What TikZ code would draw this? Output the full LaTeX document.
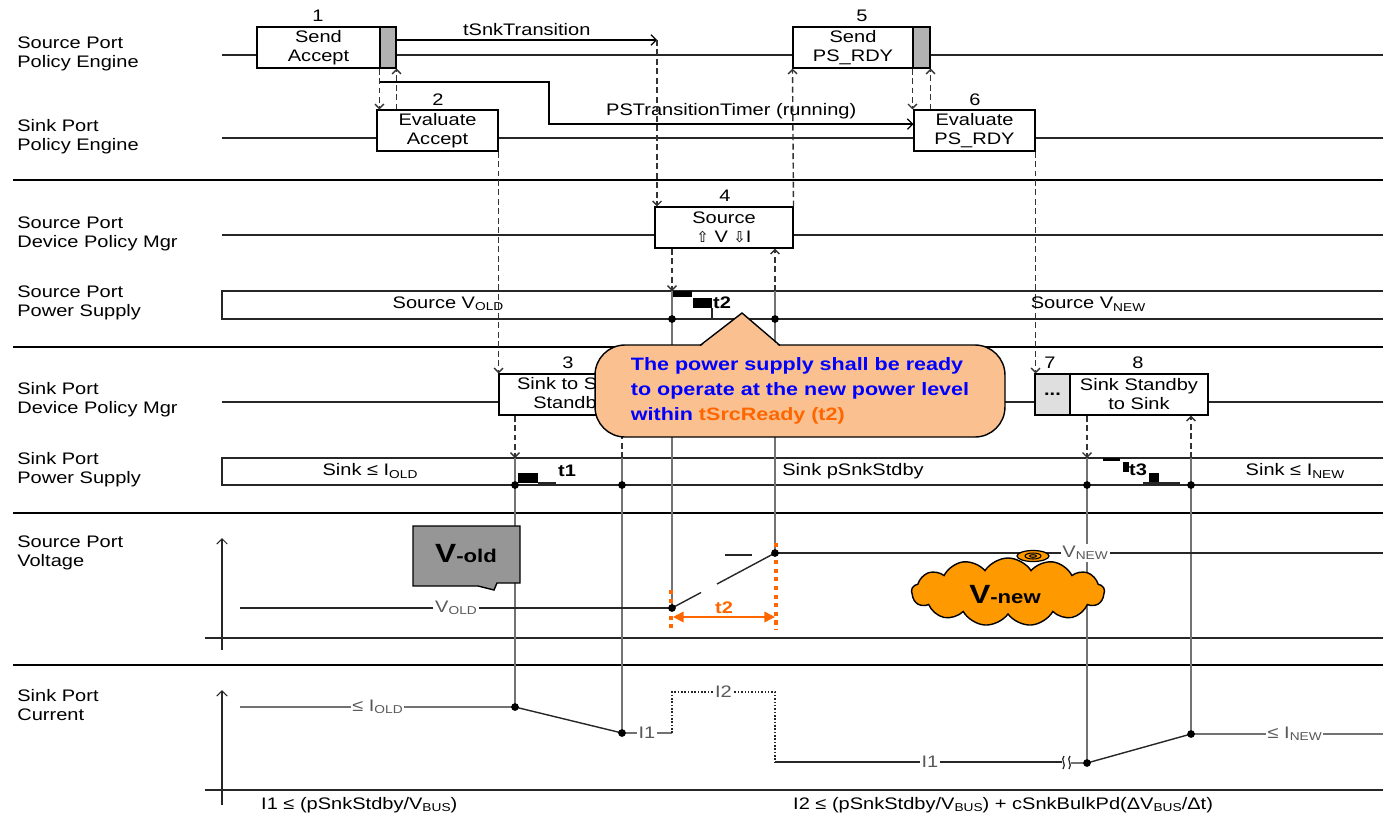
\documentclass[tikz,border=0pt]{standalone}
\usepackage{fontspec}
\setmainfont[FakeStretch=1.2]{Liberation Sans}
\newfontfamily\arrowfont{DejaVu Sans}
\usetikzlibrary{arrows.meta,shapes.symbols}

\definecolor{notefill}{RGB}{250,192,144}
\definecolor{cloudfill}{RGB}{255,153,0}
\definecolor{tworange}{RGB}{255,102,0}
\definecolor{noteblue}{RGB}{0,0,255}
\definecolor{oldgray}{RGB}{150,150,150}

\newcommand{\lowtxt}[1]{{\fontsize{6.5}{7}\selectfont\raisebox{-0.4ex}{#1}}}

\tikzset{
  lane/.style={line width=0.6pt, black!85},
  sepline/.style={line width=1.3pt, black},
  evbox/.style={draw, fill=white, line width=0.6pt, minimum height=0.82cm, inner sep=0pt, align=center},
  crcbox/.style={draw, fill=gray!60, line width=0.6pt, minimum height=0.82cm, inner sep=0pt},
  msg/.style={line width=0.8pt, black!80, dash pattern=on 3.4pt off 2pt, -{Straight Barb[length=2.5pt,width=5pt]}},
  tmark/.style={line width=0.6pt, black!55},
  lanelbl/.style={anchor=west, align=left, inner sep=0pt},
  onlbl/.style={fill=white, inner sep=1pt, text=black!65},
  steplbl/.style={anchor=west, inner sep=1pt, font=\fontsize{9.5}{10.8}\selectfont\bfseries}
}

\begin{document}
\begin{tikzpicture}[x=0.02cm, y=-0.02cm, font=\fontsize{9.5}{10.8}\selectfont]
    \useasboundingbox (0,0) rectangle (1383,819);

    % --- lane names ---
    \node[lanelbl] (lspe)  at (17,54)  {Source Port\\Policy Engine};
    \node[lanelbl] (lkpe)  at (17,137) {Sink Port\\Policy Engine};
    \node[lanelbl] (lsdpm) at (17,234) {Source Port\\Device Policy Mgr};
    \node[lanelbl] (lsps)  at (17,303) {Source Port\\Power Supply};
    \node[lanelbl] (lkdpm) at (17,400) {Sink Port\\Device Policy Mgr};
    \node[lanelbl] (lkps)  at (17,470) {Sink Port\\Power Supply};
    \node[lanelbl] (lsv)   at (17,553) {Source Port\\Voltage};
    \node[lanelbl] (lki)   at (17,705) {Sink Port\\Current};

    % --- separators and lanes ---
    \foreach \y in {180,347,513,665} \draw[sepline] (13,\y) -- (1383,\y);
    \foreach \y in {55,138,235,402} \draw[lane] (222,\y) -- (1383,\y);
    \draw[lane] (1383,291) -- (222,291) -- (222,319) -- (1383,319);
    \draw[lane] (1383,458) -- (222,458) -- (222,485) -- (1383,485);

    % --- axes ---
    \draw[lane, -{Straight Barb[length=3pt,width=6pt]}] (222,650) -- (222,538);
    \draw[lane] (205,638) -- (1383,638);
    \draw[lane, -{Straight Barb[length=3pt,width=6pt]}] (222,805) -- (222,690);
    \draw[lane] (205,790) -- (1383,790);

    % --- time marks ---
    \coordinate (psA) at (672,291);
    \coordinate (psB) at (775,291);
    \coordinate (skA) at (515,458);
    \coordinate (skB) at (622,458);
    \coordinate (skC) at (1087,458);
    \coordinate (skD) at (1191,458);
    \coordinate (vA) at (672,608);
    \coordinate (vB) at (775,553);
    \coordinate (iA) at (515,707);
    \coordinate (iB) at (622,733);
    \coordinate (iC) at (672,733);
    \coordinate (iD) at (672,692);
    \coordinate (iE) at (775,692);
    \coordinate (iF) at (775,762);
    \coordinate (iG) at (1087,763);
    \coordinate (iH) at (1191,734);
    \draw[tmark] (psA) -- (vA);
    \draw[tmark] (psB) -- (vB);
    \draw[tmark] (skA) -- (iA);
    \draw[tmark] (skB) -- (iB);
    \draw[tmark] (skC) -- (iG);
    \draw[tmark] (skD) -- (iH);

    % --- policy engine boxes ---
    \node[evbox, minimum width=2.46cm] (sendacc) at (318.5,47.5) {Send\\Accept};
    \node[crcbox, minimum width=0.32cm] (crcA) at (388,47.5) {};
    \node (num1) at (318,16) {1};
    \node[evbox, minimum width=2.42cm] (evalacc) at (437.5,130.5) {Evaluate\\Accept};
    \node (num2) at (438,100) {2};
    \node[evbox, minimum width=2.4cm] (sendrdy) at (853,47.5) {Send\\PS\_RDY};
    \node[crcbox, minimum width=0.34cm] (crcB) at (921.5,47.5) {};
    \node (num5) at (862,16) {5};
    \node[evbox, minimum width=2.42cm] (evalrdy) at (974.5,130.5) {Evaluate\\PS\_RDY};
    \node (num6) at (975,100) {6};

    % --- device policy boxes ---
    \node[evbox, minimum width=2.76cm] (srcchg) at (724,227.5) {Source\\{\arrowfont\fontsize{8.5}{9}\selectfont ⇧} V {\arrowfont\fontsize{8.5}{9}\selectfont ⇩}I};
    \node (num4) at (725,196) {4};
    \node[evbox, minimum width=2.84cm] (snkstby) at (570,394.5) {Sink to Sink\\Standby};
    \node (num3) at (568,363) {3};
    \node[evbox, fill=gray!25, minimum width=0.7cm, font=\fontsize{9.5}{10.8}\selectfont\bfseries] (dots7) at (1052.5,394.5) {...};
    \node (num7) at (1050,363) {7};
    \node[evbox, minimum width=2.76cm] (stbysnk) at (1139,394.5) {Sink Standby\\to Sink};
    \node (num8) at (1138,363) {8};

    % --- messages ---
    \coordinate (tsnk) at (657,40);
    \draw[line width=0.7pt, -{Straight Barb[length=3pt,width=6pt]}] (crcA.east |- tsnk) -- node[above=-1pt] {tSnkTransition} (tsnk);
    \draw[line width=0.7pt, -{Straight Barb[length=3pt,width=6pt]}] (379,82) -- (549,82) -- (549,124) -- node[above=-1pt, pos=0.5] {PSTransitionTimer (running)} (evalrdy.west |- 0,124);
    \draw[msg] (crcA.south west) -- (crcA.south west |- evalacc.north);
    \draw[msg] (crcA.south east |- evalacc.north) -- (crcA.south east);
    \draw[msg] (tsnk) -- (tsnk |- srcchg.north);
    \draw[msg] (srcchg.north east) -- (sendrdy.south west);
    \draw[msg] (crcB.south west) -- (crcB.south west |- evalrdy.north);
    \draw[msg] (crcB.south east |- evalrdy.north) -- (crcB.south east);
    \draw[msg] (evalacc.south east) -- (evalacc.south east |- snkstby.north);
    \draw[msg] (evalrdy.south east) -- (evalrdy.south east |- dots7.north);
    \draw[msg] (srcchg.south -| psA) -- (psA);
    \draw[msg] (psB) -- (srcchg.south -| psB);
    \draw[msg] (snkstby.south -| skA) -- (skA);
    \draw[msg] (skB) -- (snkstby.south -| skB);
    \draw[msg] (stbysnk.south -| skC) -- (skC);
    \draw[msg] (skD) -- (stbysnk.south -| skD);

    % --- supply bands ---
    \node (srcold) at (448,304) {Source V\lowtxt{OLD}};
    \node (srcnew) at (1088,304) {Source V\lowtxt{NEW}};
    \fill (673,291) rectangle (692,297);
    \fill (693,298) rectangle (712,308);
    \draw[lane] (712,308) -- (712,319);
    \node[steplbl] (tt2) at (711,303) {t2};
    \node (snkold) at (370,471) {Sink ≤ I\lowtxt{OLD}};
    \node (snkstd) at (853,471) {Sink pSnkStdby};
    \node (snknew) at (1295,471) {Sink ≤ I\lowtxt{NEW}};
    \fill (518,473) rectangle (538,483);
    \draw[lane] (538,483) -- (556,483);
    \node[steplbl] (tt1) at (556,471) {t1};
    \fill (1103,457.5) rectangle (1120,460.5);
    \fill (1123,462) rectangle (1129,472);
    \node[steplbl] (tt3) at (1127,470) {t3};
    \fill (1149,473) rectangle (1159,483);
    \draw[lane] (1143,483) -- (1180,483);

    % --- source voltage ---
    \draw[lane, line width=0.8pt] (240,608) -- node[onlbl] {V\lowtxt{OLD}} (vA);
    \draw[lane, line width=0.8pt] (vA) -- (701,592.5);
    \draw[lane, line width=0.8pt] (717,584) -- (vB);
    \draw[lane, line width=0.8pt] (725,555) -- (752,555);
    \draw[lane, line width=0.8pt] (vB) -- node[onlbl, pos=0.51] {V\lowtxt{NEW}} (1383,553);
    \draw[tworange, line width=2.3pt, dash pattern=on 2.3pt off 2.6pt] (671,590) -- (671,630);
    \draw[tworange, line width=2.3pt, dash pattern=on 2.3pt off 2.6pt] (776,543) -- (776,630);
    \draw[tworange, line width=1pt, {Triangle[length=6pt,width=6pt]}-{Triangle[length=6pt,width=6pt]}] (673,617) -- node[above=-2pt, font=\fontsize{9.5}{10.8}\selectfont\bfseries] {t2} (775,617);

    % --- sink current ---
    \draw[lane, line width=0.8pt] (240,707) -- node[onlbl] {≤ I\lowtxt{OLD}} (iA) -- (iB) -- node[onlbl] {I1} (iC);
    \draw[lane, line width=0.9pt, densely dotted] (iC) -- (iD) -- node[onlbl] {I2} (iE) -- (iF);
    \draw[lane, line width=0.8pt] (iF) -- node[onlbl, pos=0.54] {I1} (1062,762);
    \draw[lane, line width=0.7pt] (1064,756) .. controls (1060,760) and (1067,764) .. (1063,769);
    \draw[lane, line width=0.7pt] (1070,756) .. controls (1066,760) and (1073,764) .. (1069,769);
    \draw[lane, line width=0.8pt] (1071,763) -- (iG) -- (iH) -- node[onlbl, pos=0.54] {≤ I\lowtxt{NEW}} (1383,734);
    \foreach \p in {(515,485),(622,485),(672,319),(775,319),(1087,485),(1191,485),(vA),(vB),(iA),(iB),(iG),(iH)}
        \fill \p circle (2.2pt);

    \node[anchor=west] (eqone) at (255,805) {I1 ≤ (pSnkStdby/V\lowtxt{BUS})};
    \node[anchor=west] (eqtwo) at (787,805) {I2 ≤ (pSnkStdby/V\lowtxt{BUS}) + cSnkBulkPd(ΔV\lowtxt{BUS}/Δt)};

    % --- note bubble ---
    \node[draw, line width=0.8pt, fill=notefill, rounded corners=0.6cm, minimum width=8.2cm, minimum height=1.84cm,
          align=left, text=noteblue, font=\fontsize{10.2}{14.2}\selectfont\bfseries] (note) at (800,391)
        {The power supply shall be ready\\to operate at the new power level\\within \textcolor{tworange}{tSrcReady (t2)}};
    \fill[notefill] (700,347) -- (742,313) -- (780,347) -- cycle;
    \draw[line width=0.8pt] (700,345.5) -- (742,313) -- (780,345.5);

    % --- V-old tag ---
    \draw[line width=0.8pt, fill=oldgray] (413,526) -- (520,526) -- (520,583) -- (497,583) -- (494,590) -- (478,586) -- (413,586) -- cycle;
    \node (voldtxt) at (466,554) {\bfseries\fontsize{15}{16}\selectfont V\fontsize{10.5}{12}\selectfont -old};

    % --- V-new cloud ---
    \node[cloud, cloud puffs=13, cloud puff arc=115, aspect=3, draw, line width=0.8pt, fill=cloudfill,
          minimum width=3.86cm, minimum height=1.36cm] (vnewcloud) at (1008,592) {};
    \draw[line width=0.7pt, fill=cloudfill] (1033,556) ellipse (16 and 5.5);
    \draw[line width=0.6pt] (1033,556) ellipse (8 and 3);
    \draw[line width=0.6pt] (1033,556) ellipse (3.5 and 1.3);
    \node (vnewtxt) at (1005,595) {\bfseries\fontsize{15}{16}\selectfont V\fontsize{10.5}{12}\selectfont -new};
\end{tikzpicture}
\end{document}
